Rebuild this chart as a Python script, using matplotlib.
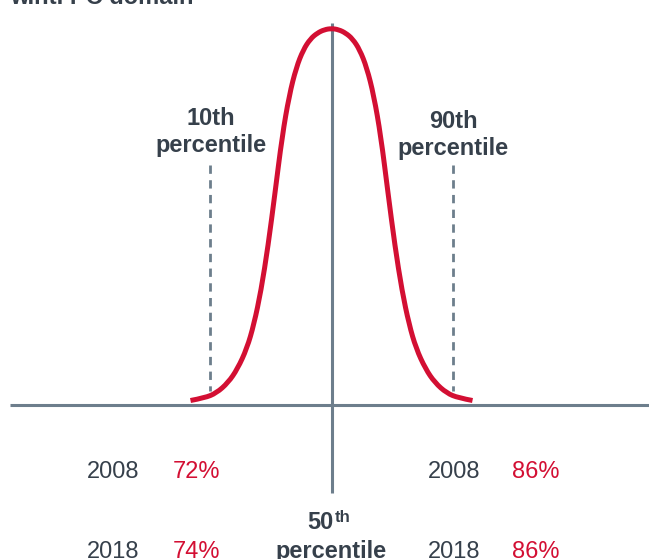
import matplotlib
matplotlib.use("Agg")
import matplotlib.pyplot as plt
from matplotlib.path import Path
from matplotlib.patches import PathPatch

plt.rcParams['font.family'] = ['Liberation Sans', 'DejaVu Sans']
plt.rcParams['lines.scale_dashes'] = False

# ---- data ----
# half-curve: offset from centre (in sd-like units) and relative height
curve_offset = [0.0, 0.15, 0.3, 0.45, 0.6, 0.75, 0.9, 1.05, 1.2, 1.35, 1.5,
                1.65, 1.8, 2.0, 2.2, 2.45, 2.7, 3.0]
curve_height = [1.0, 0.997, 0.988, 0.972, 0.943, 0.895, 0.82, 0.71, 0.56, 0.415, 0.295,
                0.205, 0.14, 0.085, 0.048, 0.02, 0.007, 0.0]
p10_pos = -2.58
p90_pos = 2.58
years = ['2008', '2018']
p10_values = ['72%', '74%']
p90_values = ['86%', '86%']
title = 'w.r.t. PC domain'

RED = '#D30F33'
GREY = '#6D7E8C'
TEXT = '#36404B'

W, H = 649, 559
fig = plt.figure(figsize=(W / 100, H / 100), dpi=100)
ax = fig.add_axes([0, 0, 1, 1])
ax.axis('off')
px_per_x = 47.0
px_per_h = 372.0
cx, base = 331.5, 400.5
ax.set_xlim(-cx / px_per_x, (W - cx) / px_per_x)
ax.set_ylim(-(H - base) / px_per_h, base / px_per_h)

xs = [-v for v in curve_offset[::-1]] + curve_offset[1:]
hs = curve_height[::-1] + curve_height[1:]
pts = list(zip(xs, hs))

# axes lines
ax.plot([(10 - cx) / px_per_x, (W - cx) / px_per_x], [-0.012, -0.012],
        color=GREY, lw=2.2, solid_capstyle='butt', zorder=1)
ax.plot([0, 0], [1.015, -0.249], color=GREY, lw=2.2, solid_capstyle='butt', zorder=1)

# dashed percentile lines
for xp in (p10_pos, p90_pos):
    ax.plot([xp, xp], [0.632, 0.025], color=GREY, lw=2.0, dashes=(6.0, 4.6), zorder=1)

# smooth curve through the read points (quadratic B-spline style path)
verts = [pts[0]]
codes = [Path.MOVETO]
n = len(pts)
for i in range(1, n - 1):
    if i < n - 2:
        end = ((pts[i][0] + pts[i + 1][0]) / 2, (pts[i][1] + pts[i + 1][1]) / 2)
    else:
        end = pts[n - 1]
    verts += [pts[i], end]
    codes += [Path.CURVE3, Path.CURVE3]
ax.add_patch(PathPatch(Path(verts, codes), facecolor='none', edgecolor=RED,
                       lw=3.6, joinstyle='round', capstyle='butt', zorder=3))


def ftext(px, py, s, **kw):
    fig.text(px / W, 1 - py / H, s, **kw)


fs = 17
ftext(10, 4, title, fontsize=fs, fontweight='bold', color=TEXT, ha='left', va='baseline')

ftext(210.5, 125, '10th', fontsize=fs, fontweight='bold', color=TEXT, ha='center', va='baseline')
ftext(211, 151.5, 'percentile', fontsize=fs, fontweight='bold', color=TEXT, ha='center', va='baseline')
ftext(453, 127.5, '90th', fontsize=fs, fontweight='bold', color=TEXT, ha='center', va='baseline')
ftext(453.5, 155.5, 'percentile', fontsize=fs, fontweight='bold', color=TEXT, ha='center', va='baseline')

row_y = [478, 558]
for i, yr in enumerate(years):
    ftext(87, row_y[i], yr, fontsize=fs, color=TEXT, ha='left', va='baseline')
    ftext(173, row_y[i], p10_values[i], fontsize=fs, color=RED, ha='left', va='baseline')
    ftext(428, row_y[i], yr, fontsize=fs, color=TEXT, ha='left', va='baseline')
    ftext(512, row_y[i], p90_values[i], fontsize=fs, color=RED, ha='left', va='baseline')

ftext(334, 529, '50', fontsize=fs, fontweight='bold', color=TEXT, ha='right', va='baseline')
ftext(335, 522, 'th', fontsize=12, fontweight='bold', color=TEXT, ha='left', va='baseline')
ftext(331.5, 558, 'percentile', fontsize=fs, fontweight='bold', color=TEXT, ha='center', va='baseline')

fig.savefig('out.png', dpi=100)
